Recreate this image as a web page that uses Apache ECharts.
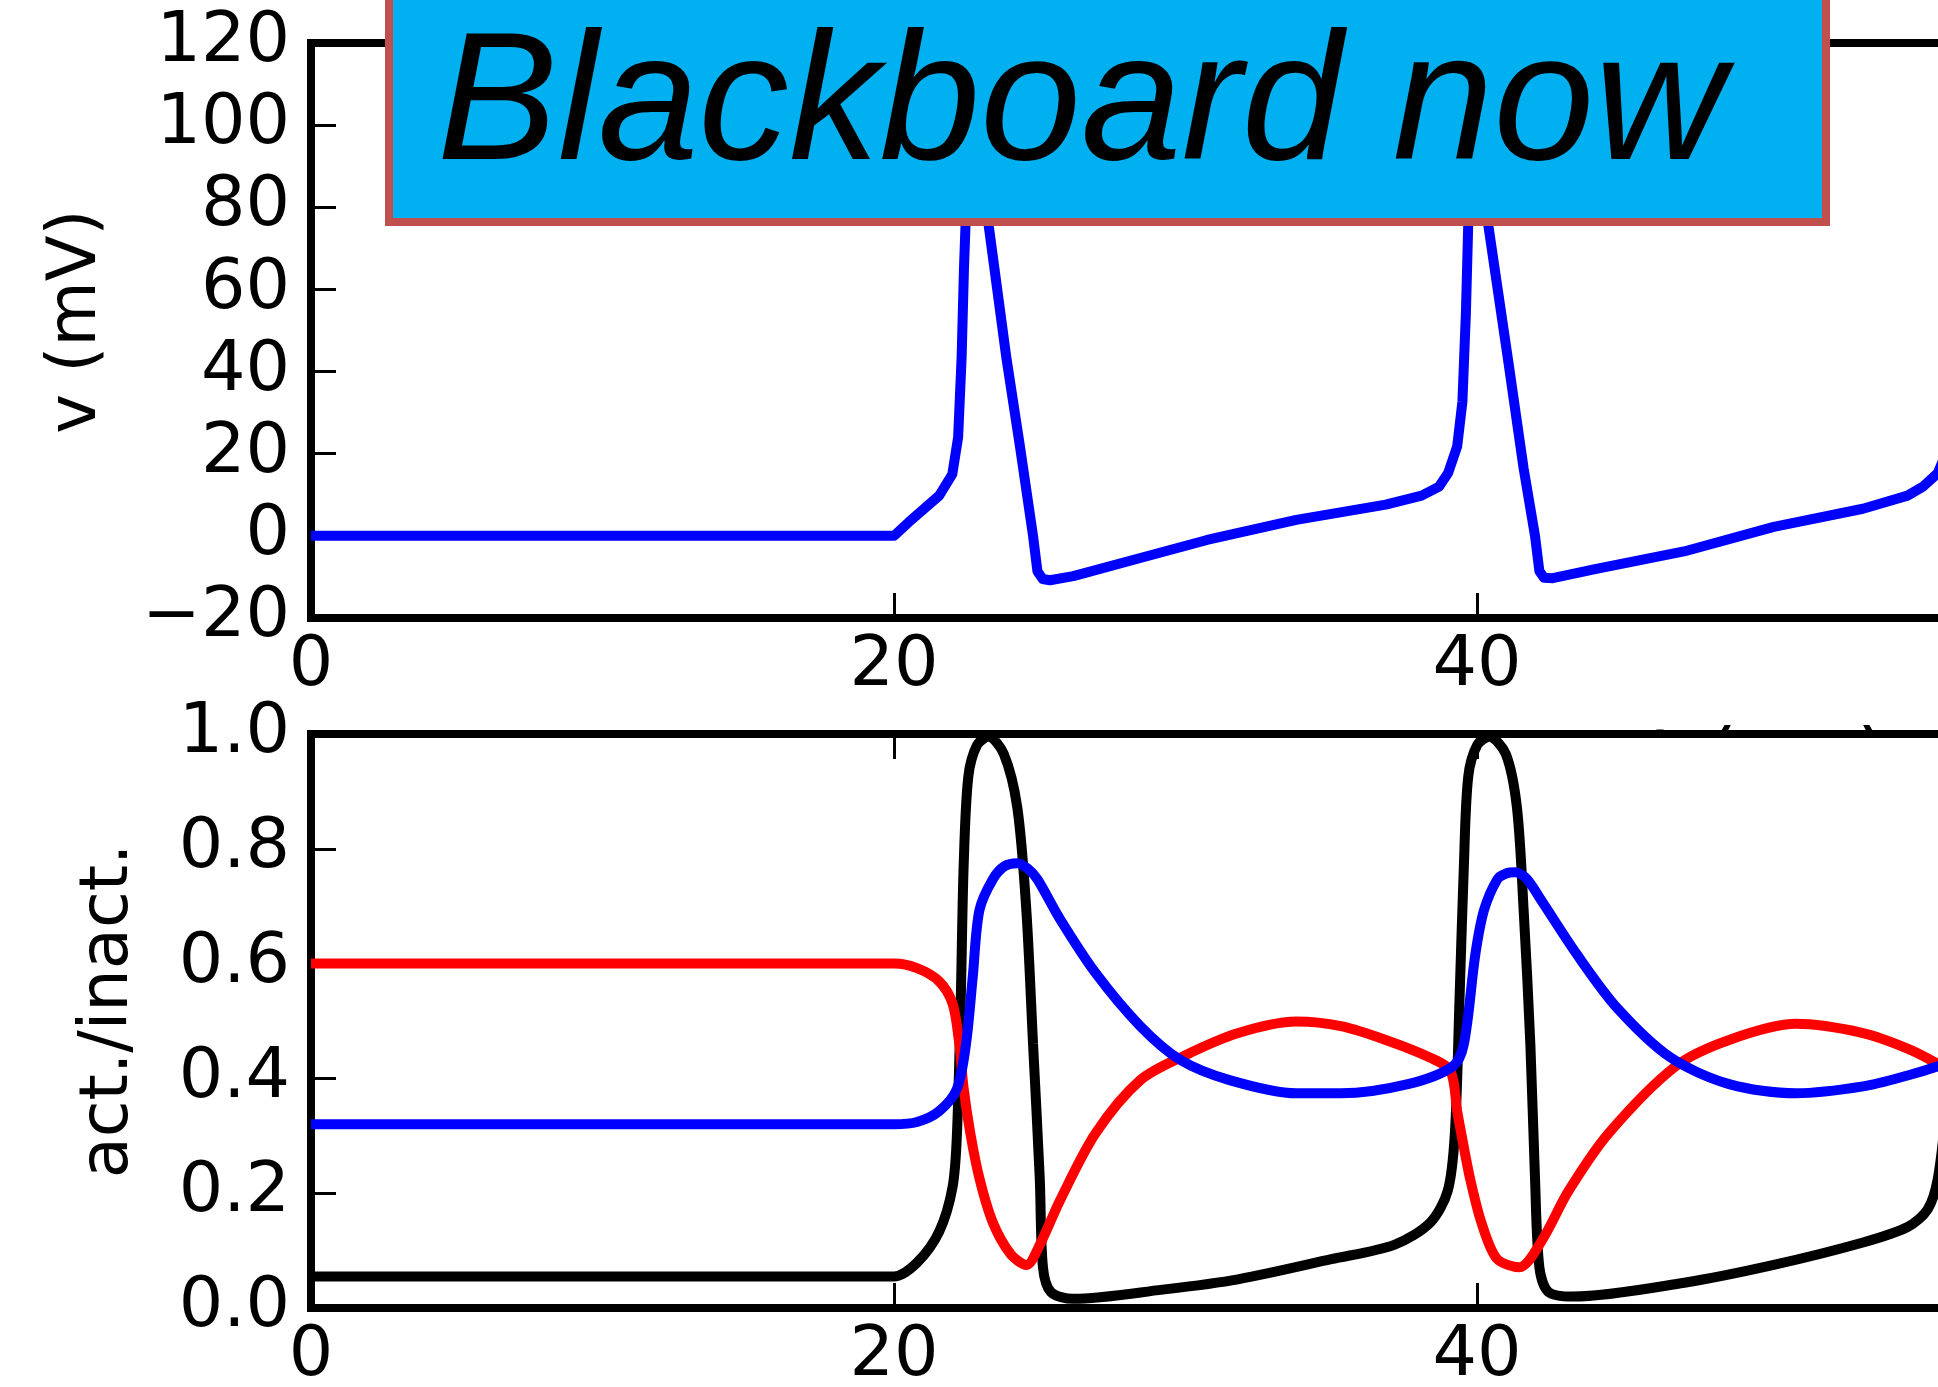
<!DOCTYPE html>
<html>
<head>
<meta charset="utf-8">
<script src="https://cdn.jsdelivr.net/npm/echarts@6/dist/echarts.min.js"></script>
<style>
  html, body { margin: 0; padding: 0; background: #fff; }
  #main { width: 1938px; height: 1387px; }
</style>
</head>
<body>
<div id="main"></div>
<script>
// membrane potential (top panel)
var vTime = [0, 20, 20.5, 21.55, 22.0, 22.2, 22.32, 22.4, 22.5, 22.8, 23.24, 23.85, 24.32, 24.77, 24.92, 25.1, 25.35, 26.15, 28.45, 30.74, 33.8, 36.87, 38.1, 38.7, 39.01, 39.32, 39.5, 39.62, 39.7, 39.8, 40.05, 40.38, 41.05, 41.6, 41.99, 42.14, 42.3, 42.6, 44.05, 47.1, 50.18, 53.24, 54.77, 55.3, 55.81, 56.2];
var vValues = [0, 0, 3.3, 9.8, 15, 24, 43.5, 65, 85, 105, 76, 43.6, 21.8, 0, -8.6, -10.5, -10.8, -9.8, -5.4, -1.0, 3.9, 7.6, 9.8, 12, 15.3, 21.8, 32.7, 54.4, 76, 95, 105, 76, 43.6, 16.4, 0, -8.6, -10.2, -10.3, -8.1, -3.8, 2.2, 6.6, 9.8, 12, 15.3, 22];

// gating variables (bottom panel)
var mTime = [0, 20, 20.79, 21.55, 22.01, 22.16, 22.29, 22.39, 22.55, 22.85, 23.24, 23.77, 24.23, 24.54, 24.77, 25.0, 25.11, 25.38, 26.15, 29.21, 31.8, 35.0, 37.16, 38.4, 39.0, 39.24, 39.4, 39.55, 39.7, 40.01, 40.42, 40.99, 41.37, 41.6, 41.83, 41.99, 42.14, 42.45, 43.29, 47.11, 50.18, 53.24, 54.77, 55.46, 55.81, 56.1];
var mValues = [0.055, 0.055, 0.079, 0.133, 0.211, 0.304, 0.537, 0.771, 0.926, 0.981, 0.995, 0.965, 0.872, 0.693, 0.46, 0.226, 0.071, 0.028, 0.016, 0.032, 0.05, 0.085, 0.11, 0.149, 0.205, 0.304, 0.537, 0.771, 0.926, 0.981, 0.995, 0.965, 0.872, 0.693, 0.46, 0.226, 0.071, 0.028, 0.02, 0.044, 0.075, 0.114, 0.141, 0.172, 0.226, 0.35];

var hTime = [0, 20, 20.79, 21.55, 22.01, 22.24, 22.39, 22.62, 22.93, 23.39, 24.0, 24.54, 25.0, 25.69, 26.91, 28.45, 29.98, 31.81, 33.8, 35.33, 36.87, 38.4, 39.09, 39.32, 39.46, 39.76, 40.15, 40.68, 41.45, 42.22, 43.13, 44.51, 46.81, 48.65, 50.94, 53.24, 54.77, 55.81, 56.2];
var hValues = [0.6, 0.6, 0.592, 0.569, 0.53, 0.46, 0.382, 0.304, 0.226, 0.149, 0.094, 0.075, 0.11, 0.187, 0.304, 0.397, 0.44, 0.479, 0.499, 0.491, 0.467, 0.436, 0.413, 0.343, 0.304, 0.226, 0.149, 0.086, 0.071, 0.117, 0.203, 0.304, 0.421, 0.467, 0.495, 0.479, 0.452, 0.425, 0.41];

var nTime = [0, 20, 20.79, 21.55, 22.16, 22.47, 22.7, 22.93, 23.39, 23.8, 24.23, 24.6, 24.92, 25.69, 26.91, 28.45, 29.83, 31.51, 33.8, 35.33, 37.63, 39.17, 39.55, 39.94, 40.24, 40.7, 41.0, 41.31, 41.7, 42.22, 43.44, 44.82, 46.65, 48.65, 50.94, 53.24, 54.77, 55.81, 56.2];
var nValues = [0.32, 0.32, 0.324, 0.343, 0.382, 0.46, 0.576, 0.693, 0.747, 0.77, 0.775, 0.765, 0.747, 0.678, 0.584, 0.491, 0.432, 0.397, 0.374, 0.374, 0.39, 0.421, 0.46, 0.615, 0.693, 0.747, 0.757, 0.759, 0.748, 0.709, 0.615, 0.522, 0.436, 0.39, 0.374, 0.386, 0.405, 0.421, 0.43];

// axis ticks
var timeTicks = [0, 20, 40, 60, 80, 100];
var vTicks = [-20, 0, 20, 40, 60, 80, 100, 120];
var gateTicks = [0, 0.2, 0.4, 0.6, 0.8, 1.0];

function pairs(xs, ys) {
    return xs.map(function (x, i) { return [x, ys[i]]; });
}

var dom = document.getElementById('main');
var myChart = echarts.init(dom);
var font = 'DejaVu Sans';

var line = { onZero: false, lineStyle: { color: '#000', width: 8, cap: 'square' } };
var tick = { show: true, inside: true, length: 25, lineStyle: { color: '#000', width: 3 } };
var label = { color: '#000', fontSize: 70, fontFamily: font };

function timeAxis(grid, pos, withLabels) {
    return {
        type: 'value', gridIndex: grid, position: pos,
        min: timeTicks[0], max: timeTicks[timeTicks.length - 1],
        interval: timeTicks[1] - timeTicks[0],
        axisLine: line, axisTick: tick,
        axisLabel: Object.assign({ show: withLabels, margin: 14 }, label),
        splitLine: { show: false }
    };
}

var topX = timeAxis(0, 'bottom', true);
topX.name = 't (ms)';
topX.nameLocation = 'middle';
topX.nameGap = 107;
topX.nameTextStyle = { color: '#000', fontSize: 80, fontFamily: font };
topX.z = -1;

option = {
    animation: false,
    backgroundColor: '#fff',
    grid: [
        { left: 311, top: 43, width: 2915, height: 575, show: false, outerBoundsMode: 'none', containLabel: false },
        { left: 311, top: 734, width: 2915, height: 574, show: true, backgroundColor: '#fff', borderWidth: 0, outerBoundsMode: 'none', containLabel: false }
    ],
    xAxis: [
        topX,
        timeAxis(0, 'top', false),
        timeAxis(1, 'bottom', true),
        timeAxis(1, 'top', false)
    ],
    yAxis: [
        {
            type: 'value', gridIndex: 0,
            min: vTicks[0], max: vTicks[vTicks.length - 1], interval: vTicks[1] - vTicks[0],
            axisLine: line, axisTick: tick,
            axisLabel: Object.assign({
                margin: 21,
                formatter: function (v) { return String(v).replace('-', '\u2212'); }
            }, label),
            splitLine: { show: false },
            name: 'v (mV)', nameLocation: 'middle', nameRotate: 90, nameGap: 200,
            nameTextStyle: { color: '#000', fontSize: 67, fontFamily: font, padding: [0, 0, 0, 18] }
        },
        {
            type: 'value', gridIndex: 1,
            min: gateTicks[0], max: gateTicks[gateTicks.length - 1], interval: 0.2,
            axisLine: line, axisTick: tick,
            axisLabel: Object.assign({
                margin: 21,
                formatter: function (v) { return v.toFixed(1); }
            }, label),
            splitLine: { show: false },
            name: 'act./inact.', nameLocation: 'middle', nameRotate: 90, nameGap: 168,
            nameTextStyle: { color: '#000', fontSize: 67, fontFamily: font, padding: [0, 0, 0, 20] }
        }
    ],
    graphic: [
        {
            type: 'rect', z: 100,
            shape: { x: 389, y: -10, width: 1437, height: 232 },
            style: { fill: '#00b0f0', stroke: '#c0504d', lineWidth: 8 }
        },
        {
            type: 'text', z: 101, x: 437, y: 109,
            style: {
                text: 'Blackboard now',
                font: 'italic 181px "Liberation Sans", Arial, sans-serif',
                fill: '#000',
                align: 'left', verticalAlign: 'middle',
                textAlign: 'left', textVerticalAlign: 'middle'
            }
        }
    ],
    series: [
        {
            type: 'line', xAxisIndex: 0, yAxisIndex: 0,
            data: pairs(vTime, vValues), showSymbol: false,
            lineStyle: { color: '#0000ff', width: 10, join: 'round' }
        },
        {
            type: 'line', xAxisIndex: 2, yAxisIndex: 1,
            data: pairs(mTime, mValues), showSymbol: false, smooth: 0.3,
            lineStyle: { color: '#000000', width: 10 }
        },
        {
            type: 'line', xAxisIndex: 2, yAxisIndex: 1,
            data: pairs(hTime, hValues), showSymbol: false, smooth: 0.3,
            lineStyle: { color: '#ff0000', width: 10 }
        },
        {
            type: 'line', xAxisIndex: 2, yAxisIndex: 1,
            data: pairs(nTime, nValues), showSymbol: false, smooth: 0.3,
            lineStyle: { color: '#0000ff', width: 10 }
        }
    ]
};

if (option && typeof option === 'object') {
    myChart.setOption(option, true);
}
</script>
</body>
</html>
